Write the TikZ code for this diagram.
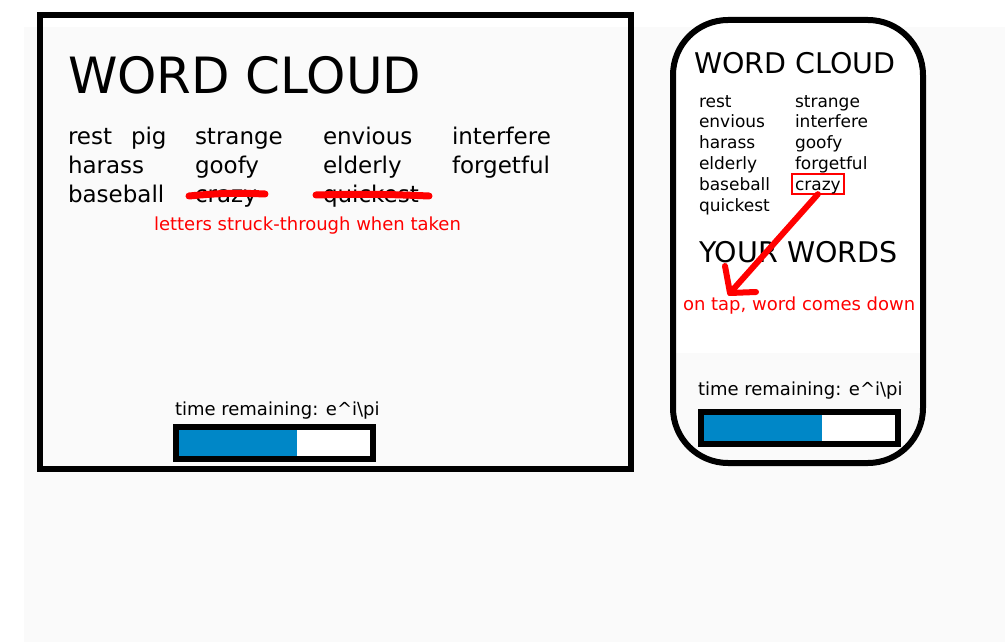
\documentclass[tikz,border=0pt]{standalone}
\usepackage{fontspec}
\setmainfont{DejaVu Sans}
\definecolor{paper}{HTML}{FAFAFA}
\definecolor{barblue}{HTML}{0087C7}
\definecolor{markred}{HTML}{FF0000}
\tikzset{
  txt/.style={anchor=base west,inner sep=0pt,outer sep=0pt},
  bigtitle/.style={txt,font=\fontsize{50}{50}\selectfont},
  smalltitle/.style={txt,font=\fontsize{28.5}{29}\selectfont},
  word/.style={txt,font=\fontsize{23}{23}\selectfont},
  pword/.style={txt,font=\fontsize{17}{17}\selectfont},
  note/.style={txt,text=markred,font=\fontsize{18}{18}\selectfont},
  timer/.style={txt,font=\fontsize{18}{18}\selectfont},
  frame/.style={draw=black,line width=6pt},
  strike/.style={draw=markred,line width=7pt,line cap=round},
  tapline/.style={draw=markred,line width=6pt,line cap=round,line join=round}
}
\begin{document}
\begin{tikzpicture}[x=1pt,y=-1pt]
  \useasboundingbox (0,0) rectangle (1005,642);
  % background
  \fill[white] (0,0) rectangle (1005,642);
  \fill[paper] (24,27) rectangle (1005,642);
  \begin{scope}
    \clip[rounded corners=55pt] (673,20) rectangle (923,463);
    \fill[white] (670,27) rectangle (926,353);
  \end{scope}

  % desktop window
  \draw[frame] (40,15) rectangle (631,469);
  \node[bigtitle] (mtitle) at (68,94) {WORD CLOUD};
  \foreach \w/\x/\y in {rest/68/144, pig/131/144, strange/195/144, envious/323/144, interfere/452/144,
                        harass/68/173, goofy/195/173, elderly/323/173, forgetful/452/173,
                        baseball/68/202, crazy/195/202, quickest/323/202}
    \node[word] (m-\w) at (\x,\y) {\w};
  \draw[strike] (189,196) to[bend left=4] (265,194);
  \draw[strike] (316,195) to[bend left=2] (429,196);
  \node[note] (mnote) at (154,230) {letters struck-through when taken};
  \node[timer] (mtime) at (175,415) {time remaining: e\^{}i\textbackslash pi};
  \fill[white] (176,427) rectangle (373,459);
  \fill[barblue] (179,430) rectangle (297,456);
  \draw[frame] (176,427) rectangle (373,459);

  % phone
  \draw[frame,rounded corners=55pt] (673,20) rectangle (923,463);
  \node[smalltitle] (ptitle) at (694,74) {WORD CLOUD};
  \foreach \w [count=\i] in {rest,envious,harass,elderly,baseball,quickest}
    \node[pword] (p-\w) at (699,{86.2+20.8*\i}) {\w};
  \foreach \w [count=\i] in {strange,interfere,goofy,forgetful}
    \node[pword] (p-\w) at (795,{86.2+20.8*\i}) {\w};
  \node[pword,draw=markred,line width=2pt,inner xsep=3pt,inner ysep=1pt,
        text height=15pt,text depth=3pt] (p-crazy) at (792,190.2) {crazy};
  \node[smalltitle] (pwords) at (699,262) {YOUR WORDS};
  \coordinate (tip) at (730,293);
  \draw[tapline] (p-crazy.south) -- (tip);
  \draw[tapline] (tip) -- ++(-5,-27) (tip) -- ++(26,-1);
  \node[note] (pnote) at (683,310) {on tap, word comes down};
  \node[timer] (ptime) at (698,395) {time remaining: e\^{}i\textbackslash pi};
  \fill[white] (701,412) rectangle (898,444);
  \fill[barblue] (704,415) rectangle (822,441);
  \draw[frame] (701,412) rectangle (898,444);
\end{tikzpicture}
\end{document}
